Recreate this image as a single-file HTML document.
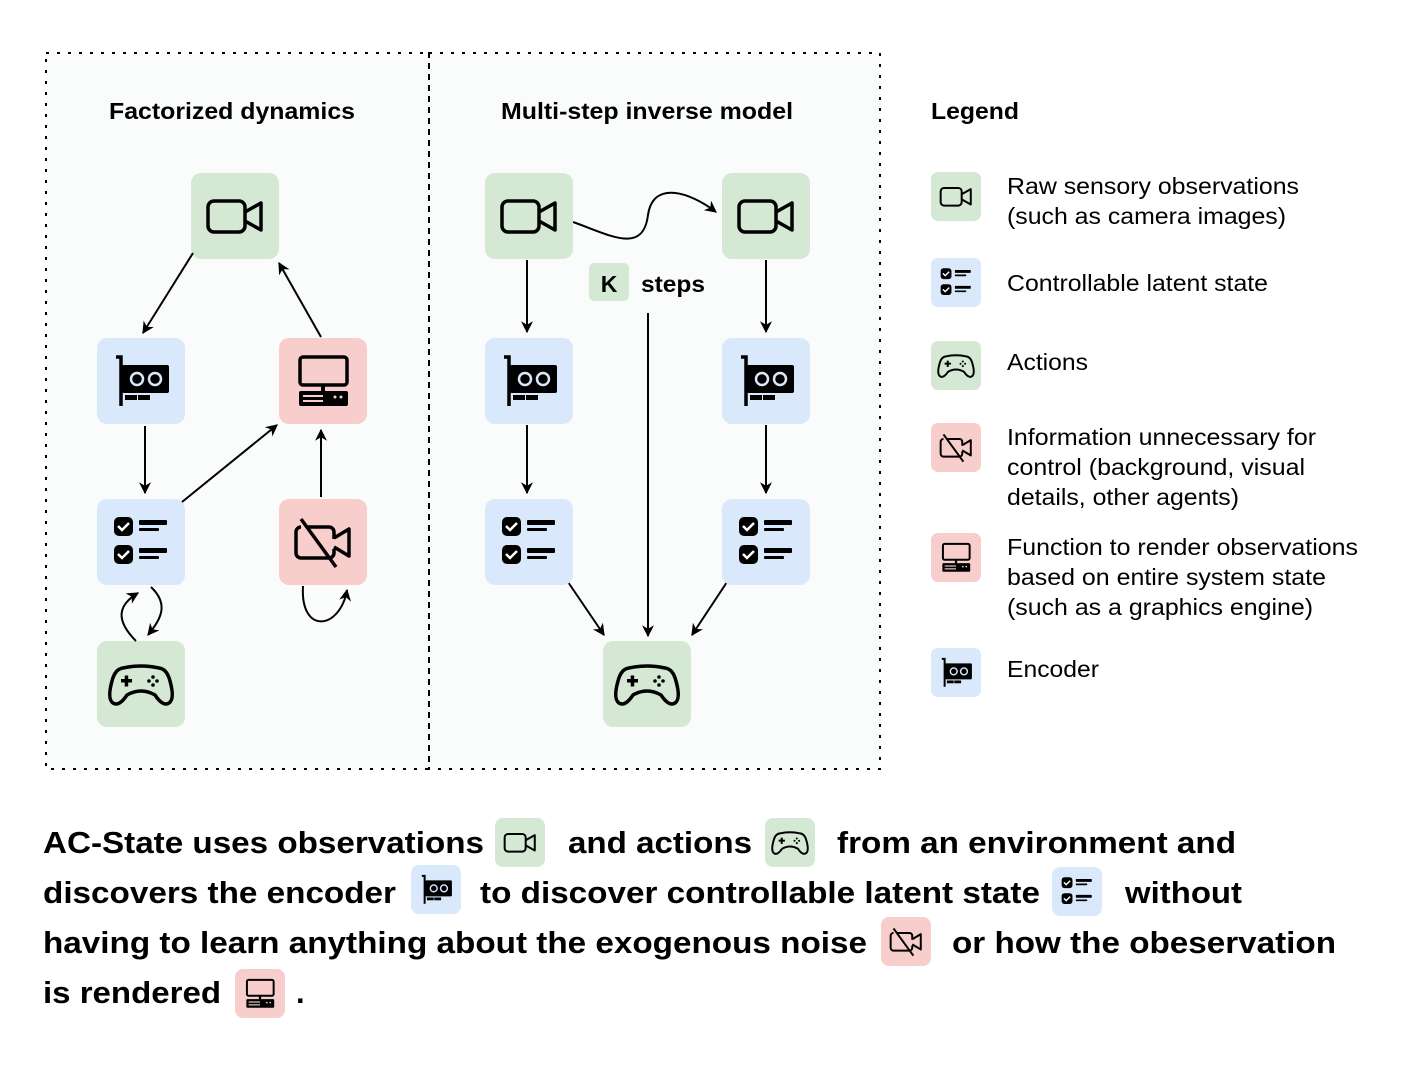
<!DOCTYPE html>
<html><head><meta charset="utf-8"><style>
html,body{margin:0;padding:0;background:#fff;}
svg{display:block;}
text{font-family:"Liberation Sans",Arial,sans-serif;fill:#000;}
</style></head><body>
<svg width="1418" height="1078" viewBox="0 0 1418 1078" xmlns="http://www.w3.org/2000/svg">
<defs>
<marker id="ah" viewBox="0 0 10 10" refX="9" refY="5" markerWidth="12" markerHeight="12" markerUnits="userSpaceOnUse" orient="auto">
<path d="M0,0 L10,5 L0,10 L3,5 z" fill="#000"/></marker>
<symbol id="cam" viewBox="0 0 88 86">
<rect x="17" y="28" width="37" height="31" rx="6" fill="none" stroke="#000" stroke-width="3.5"/>
<path d="M54 39 L70 30 V57 L54 48" fill="none" stroke="#000" stroke-width="3.5" stroke-linejoin="round"/>
</symbol>
<symbol id="noise" viewBox="0 0 88 86">
<path d="M28 28 H50 a5 5 0 0 1 5 5 V40 M55 50 V54 a5 5 0 0 1 -5 5 H22 a5 5 0 0 1 -5 -5 V33 a5 5 0 0 1 5 -5" fill="none" stroke="#000" stroke-width="3.5"/>
<path d="M55 39 L70 30 V57 L55 48" fill="none" stroke="#000" stroke-width="3.5" stroke-linejoin="round"/>
<line x1="22" y1="20" x2="57" y2="68" stroke="#000" stroke-width="3.5"/>
</symbol>
<symbol id="enc" viewBox="0 0 88 86">
<path d="M19 19 H24 V68" fill="none" stroke="#000" stroke-width="3.5"/>
<rect x="25" y="27" width="47" height="28" rx="2" fill="#000"/>
<circle cx="40" cy="41" r="6" fill="none" stroke="#dae8fc" stroke-width="2.5"/>
<circle cx="58" cy="41" r="6" fill="none" stroke="#dae8fc" stroke-width="2.5"/>
<rect x="28" y="57" width="12" height="5" fill="#000"/>
<rect x="41" y="57" width="12" height="5" fill="#000"/>
</symbol>
<symbol id="rend" viewBox="0 0 88 86">
<rect x="21" y="19" width="47" height="28" rx="3" fill="none" stroke="#000" stroke-width="3.5"/>
<rect x="42" y="47" width="4" height="6" fill="#000"/>
<rect x="20" y="53" width="49" height="15" rx="2" fill="#000"/>
<rect x="24" y="57" width="20" height="2" fill="#f8cecc"/>
<rect x="24" y="62" width="20" height="2" fill="#f8cecc"/>
<circle cx="56" cy="59" r="1.5" fill="#f8cecc"/><circle cx="62" cy="59" r="1.5" fill="#f8cecc"/>
</symbol>
<symbol id="lat" viewBox="0 0 88 86">
<rect x="17" y="18" width="19" height="19" rx="5" fill="#000"/>
<rect x="17" y="46" width="19" height="19" rx="5" fill="#000"/>
<path d="M21 27 l4 4 l7 -7 M21 55 l4 4 l7 -7" fill="none" stroke="#fff" stroke-width="2.5"/>
<rect x="42" y="21" width="28" height="5" rx="1" fill="#000"/>
<rect x="42" y="29" width="20" height="3" rx="1" fill="#000"/>
<rect x="42" y="49" width="28" height="5" rx="1" fill="#000"/>
<rect x="42" y="57" width="20" height="3" rx="1" fill="#000"/>
</symbol>
<symbol id="pad" viewBox="0 0 88 86">
<path d="M26 27 Q44 23 62 27 Q70 28 73 40 Q78 58 72 62 Q66 66 58 54 Q44 46 30 54 Q22 66 16 62 Q10 58 15 40 Q18 28 26 27 z" fill="none" stroke="#000" stroke-width="3.5" stroke-linejoin="round"/>
<rect x="24" y="38" width="11" height="3.5" fill="#000"/><rect x="27.7" y="34.5" width="3.5" height="11" fill="#000"/>
<circle cx="56" cy="36" r="1.8"/><circle cx="56" cy="44" r="1.8"/><circle cx="52" cy="40" r="1.8"/><circle cx="60" cy="40" r="1.8"/>
</symbol>
</defs>

<rect x="46" y="53" width="834" height="716" fill="#fafcfb"/>
<rect x="46" y="53" width="383" height="716" fill="none" stroke="#000" stroke-width="2" stroke-dasharray="3,8"/>
<rect x="429" y="53" width="451" height="716" fill="none" stroke="#000" stroke-width="2" stroke-dasharray="3,8"/>

<g font-size="23" font-weight="bold">
<text x="109" y="119" textLength="246" lengthAdjust="spacingAndGlyphs">Factorized dynamics</text>
<text x="501" y="119" textLength="292" lengthAdjust="spacingAndGlyphs">Multi-step inverse model</text>
<text x="931" y="119" textLength="88" lengthAdjust="spacingAndGlyphs">Legend</text>
</g>

<rect x="191" y="173" width="88" height="86" rx="10" fill="#d5e8d4"/><use href="#cam" x="191" y="173" width="88" height="86"/>
<rect x="97" y="338" width="88" height="86" rx="10" fill="#dae8fc"/><use href="#enc" x="97" y="338" width="88" height="86"/>
<rect x="279" y="338" width="88" height="86" rx="10" fill="#f8cecc"/><use href="#rend" x="279" y="338" width="88" height="86"/>
<rect x="97" y="499" width="88" height="86" rx="10" fill="#dae8fc"/><use href="#lat" x="97" y="499" width="88" height="86"/>
<rect x="279" y="499" width="88" height="86" rx="10" fill="#f8cecc"/><use href="#noise" x="279" y="499" width="88" height="86"/>
<rect x="97" y="641" width="88" height="86" rx="10" fill="#d5e8d4"/><use href="#pad" x="97" y="641" width="88" height="86"/>

<g fill="none" stroke="#000" stroke-width="2" marker-end="url(#ah)">
<line x1="193" y1="253" x2="143" y2="333"/>
<line x1="321" y1="337" x2="279" y2="263"/>
<line x1="145" y1="426" x2="145" y2="493"/>
<line x1="182" y1="502" x2="277" y2="425"/>
<line x1="321" y1="497" x2="321" y2="430"/>
<path d="M151 587 C170 605 160 620 148 635"/>
<path d="M136 641 C115 620 118 605 138 593"/>
<path d="M303 586 C300 635 340 630 347 590"/>
<line x1="527" y1="260" x2="527" y2="332"/>
<line x1="766" y1="260" x2="766" y2="332"/>
<line x1="527" y1="425" x2="527" y2="493"/>
<line x1="766" y1="425" x2="766" y2="493"/>
<line x1="568" y1="582" x2="604" y2="635"/>
<line x1="727" y1="582" x2="692" y2="635"/>
<line x1="648" y1="313" x2="648" y2="636"/>
<path d="M573 222 C610 235 643 255 648 215 C653 180 690 192 716 212"/>
</g>

<rect x="485" y="173" width="88" height="86" rx="10" fill="#d5e8d4"/><use href="#cam" x="485" y="173" width="88" height="86"/>
<rect x="722" y="173" width="88" height="86" rx="10" fill="#d5e8d4"/><use href="#cam" x="722" y="173" width="88" height="86"/>
<rect x="485" y="338" width="88" height="86" rx="10" fill="#dae8fc"/><use href="#enc" x="485" y="338" width="88" height="86"/>
<rect x="722" y="338" width="88" height="86" rx="10" fill="#dae8fc"/><use href="#enc" x="722" y="338" width="88" height="86"/>
<rect x="485" y="499" width="88" height="86" rx="10" fill="#dae8fc"/><use href="#lat" x="485" y="499" width="88" height="86"/>
<rect x="722" y="499" width="88" height="86" rx="10" fill="#dae8fc"/><use href="#lat" x="722" y="499" width="88" height="86"/>
<rect x="603" y="641" width="88" height="86" rx="10" fill="#d5e8d4"/><use href="#pad" x="603" y="641" width="88" height="86"/>
<rect x="589" y="263" width="40" height="38" rx="5" fill="#d5e8d4"/>
<text x="609" y="292" font-size="23" font-weight="bold" text-anchor="middle">K</text>
<text x="641" y="292" font-size="23" font-weight="bold" textLength="64" lengthAdjust="spacingAndGlyphs">steps</text>

<rect x="931" y="172" width="50" height="49" rx="7" fill="#d5e8d4"/><use href="#cam" x="931" y="172" width="50" height="49"/>
<rect x="931" y="258" width="50" height="49" rx="7" fill="#dae8fc"/><use href="#lat" x="931" y="258" width="50" height="49"/>
<rect x="931" y="341" width="50" height="49" rx="7" fill="#d5e8d4"/><use href="#pad" x="931" y="341" width="50" height="49"/>
<rect x="931" y="423" width="50" height="49" rx="7" fill="#f8cecc"/><use href="#noise" x="931" y="423" width="50" height="49"/>
<rect x="931" y="533" width="50" height="49" rx="7" fill="#f8cecc"/><use href="#rend" x="931" y="533" width="50" height="49"/>
<rect x="931" y="648" width="50" height="49" rx="7" fill="#dae8fc"/><use href="#enc" x="931" y="648" width="50" height="49"/>
<g font-size="23">
<text x="1007" y="194" textLength="292" lengthAdjust="spacingAndGlyphs">Raw sensory observations</text>
<text x="1007" y="224" textLength="279" lengthAdjust="spacingAndGlyphs">(such as camera images)</text>
<text x="1007" y="291" textLength="261" lengthAdjust="spacingAndGlyphs">Controllable latent state</text>
<text x="1007" y="370" textLength="81" lengthAdjust="spacingAndGlyphs">Actions</text>
<text x="1007" y="445" textLength="309" lengthAdjust="spacingAndGlyphs">Information unnecessary for</text>
<text x="1007" y="475" textLength="298" lengthAdjust="spacingAndGlyphs">control (background, visual</text>
<text x="1007" y="505" textLength="232" lengthAdjust="spacingAndGlyphs">details, other agents)</text>
<text x="1007" y="555" textLength="351" lengthAdjust="spacingAndGlyphs">Function to render observations</text>
<text x="1007" y="585" textLength="319" lengthAdjust="spacingAndGlyphs">based on entire system state</text>
<text x="1007" y="615" textLength="306" lengthAdjust="spacingAndGlyphs">(such as a graphics engine)</text>
<text x="1007" y="677" textLength="92" lengthAdjust="spacingAndGlyphs">Encoder</text>
</g>

<g font-size="31" font-weight="bold">
<text x="43" y="853" textLength="441" lengthAdjust="spacingAndGlyphs">AC-State uses observations</text>
<text x="568" y="853" textLength="184" lengthAdjust="spacingAndGlyphs">and actions</text>
<text x="837" y="853" textLength="399" lengthAdjust="spacingAndGlyphs">from an environment and</text>
<text x="43" y="903" textLength="353" lengthAdjust="spacingAndGlyphs">discovers the encoder</text>
<text x="480" y="903" textLength="560" lengthAdjust="spacingAndGlyphs">to discover controllable latent state</text>
<text x="1125" y="903" textLength="117" lengthAdjust="spacingAndGlyphs">without</text>
<text x="43" y="953" textLength="824" lengthAdjust="spacingAndGlyphs">having to learn anything about the exogenous noise</text>
<text x="952" y="953" textLength="384" lengthAdjust="spacingAndGlyphs">or how the obeservation</text>
<text x="43" y="1003" textLength="178" lengthAdjust="spacingAndGlyphs">is rendered</text>
<text x="296" y="1003">.</text>
</g>
<rect x="495" y="818" width="50" height="49" rx="8" fill="#d5e8d4"/><use href="#cam" x="495" y="818" width="50" height="49"/>
<rect x="765" y="818" width="50" height="49" rx="8" fill="#d5e8d4"/><use href="#pad" x="765" y="818" width="50" height="49"/>
<rect x="411" y="865" width="50" height="49" rx="8" fill="#dae8fc"/><use href="#enc" x="411" y="865" width="50" height="49"/>
<rect x="1052" y="867" width="50" height="49" rx="8" fill="#dae8fc"/><use href="#lat" x="1052" y="867" width="50" height="49"/>
<rect x="881" y="917" width="50" height="49" rx="8" fill="#f8cecc"/><use href="#noise" x="881" y="917" width="50" height="49"/>
<rect x="235" y="969" width="50" height="49" rx="8" fill="#f8cecc"/><use href="#rend" x="235" y="969" width="50" height="49"/>
</svg>
</body></html>
